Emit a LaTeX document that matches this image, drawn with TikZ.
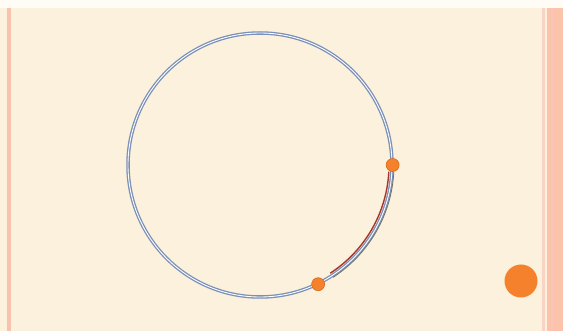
\documentclass[tikz,border=0pt]{standalone}
\usepackage{xcolor}
\usepackage{tikz}
\usetikzlibrary{positioning,calc}
\definecolor{creme}{HTML}{FBF1DC}
\definecolor{topo}{HTML}{FFFCF6}
\definecolor{rosa}{HTML}{F7C2AE}
\definecolor{salmao}{HTML}{FBC3A9}
\definecolor{laranja}{HTML}{F6812C}
\definecolor{laranjaesc}{HTML}{D9691C}
\definecolor{azulcinza}{HTML}{7A90B8}
\definecolor{vermelho}{HTML}{A8352C}
\definecolor{sombra}{HTML}{6E7468}

\begin{document}
\begin{tikzpicture}[
      x=1pt,y=-1pt,
      ring/.style={draw=azulcinza,double=white,double distance=0.9pt,line width=1.3pt,circle,minimum size=264pt,inner sep=0pt},
      dot/.style={circle,fill=laranja,draw=laranjaesc,line width=0.6pt,inner sep=0pt,minimum size=13pt},
      bigdot/.style={circle,fill=laranja,inner sep=0pt,minimum size=33pt},
    ]
  % fundo e bordas
  \useasboundingbox (0,0) rectangle (563,331);
  \fill[creme] (0,0) rectangle (563,331);
  \fill[topo] (0,0) rectangle (563,8);
  \fill[rosa] (7,8) rectangle (11,331);
  \fill[rosa!70] (542,8) rectangle (545,331);
  \fill[salmao] (547,8) rectangle (563,331);
  \fill[rosa!80!red!60] (551,8) rectangle (553,331);

  % circulo e pontos
  \node[ring] (circ) at (260,165) {};
  \draw[sombra,line width=0.8pt] ($(circ.center)+(3:134)$) arc[start angle=3,end angle=57,radius=134];
  \draw[vermelho,line width=1.4pt] ($(circ.center)+(3:129)$) arc[start angle=3,end angle=57,radius=129];
  \node[dot] (pa) at (circ.0) {};
  \node[dot] (pb) at (circ.-64) {};
  \node[bigdot] (pc) at (521,281) {};
\end{tikzpicture}
\end{document}
